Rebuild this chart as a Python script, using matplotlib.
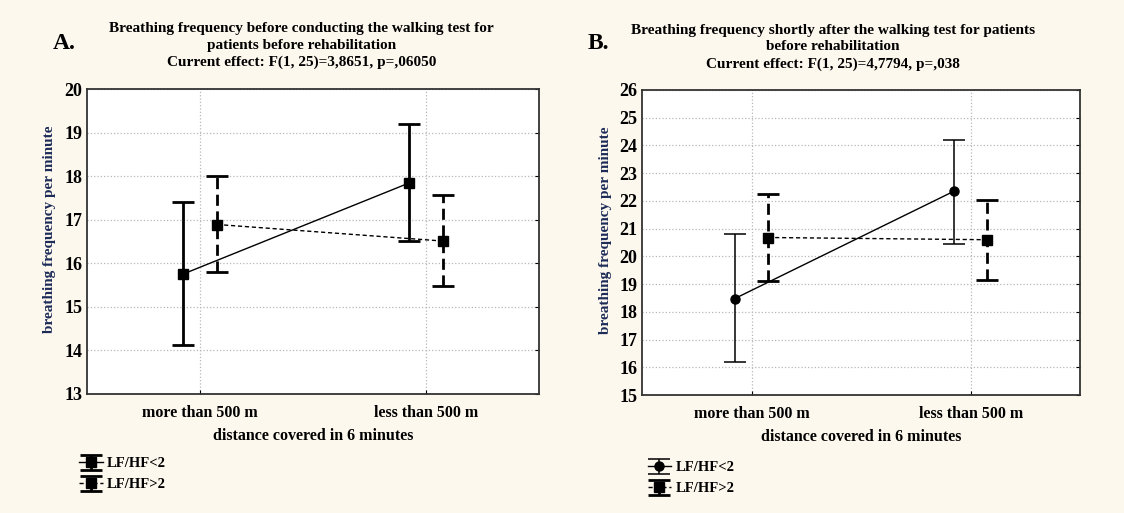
import matplotlib.pyplot as plt
import numpy as np

plt.rcParams['font.family'] = ['Liberation Serif', 'DejaVu Serif']
plt.rcParams['font.weight'] = 'bold'

# categories and groups
categories = ['more than 500 m', 'less than 500 m']
groups = ['LF/HF<2', 'LF/HF>2']

# Panel A: before the walking test (mean, lower, upper)
a_low_mean = [15.75, 17.84]
a_low_lo = [14.12, 16.50]
a_low_hi = [17.40, 19.20]
a_high_mean = [16.89, 16.51]
a_high_lo = [15.79, 15.47]
a_high_hi = [18.00, 17.56]

# Panel B: shortly after the walking test
b_low_mean = [18.48, 22.35]
b_low_lo = [16.18, 20.44]
b_low_hi = [20.80, 24.20]
b_high_mean = [20.68, 20.60]
b_high_lo = [19.10, 19.15]
b_high_hi = [22.25, 22.05]

bg = '#fdf8ee'
navy = '#1c2b57'

fig = plt.figure(figsize=(11.24, 5.13), dpi=100, facecolor=bg)
axA = fig.add_axes([0.0774, 0.232, 0.4021, 0.5945])
axB = fig.add_axes([0.5712, 0.230, 0.3898, 0.5946])


def draw_panel(ax, lo_m, lo_l, lo_h, hi_m, hi_l, hi_h, low_marker, low_elw, ylim, ylab_x):
    x = np.arange(len(categories))
    off = 0.076
    m1 = np.array(lo_m)
    m2 = np.array(hi_m)
    e1 = [m1 - np.array(lo_l), np.array(lo_h) - m1]
    e2 = [m2 - np.array(hi_l), np.array(hi_h) - m2]
    h1 = ax.errorbar(x - off, m1, yerr=e1, fmt=low_marker, color='black', ls='-', lw=1.0,
                     ms=6.5, elinewidth=low_elw, capsize=8, capthick=low_elw, zorder=3)
    h2 = ax.errorbar(x + off, m2, yerr=e2, fmt='s', color='black', ls=(0, (3, 2)), lw=1.0,
                     ms=6.5, elinewidth=2.0, capsize=8, capthick=2.0, zorder=3)
    h2[2][0].set_linestyle((0, (4, 2)))
    ax.set_xlim(-0.5, 1.5)
    ax.set_ylim(*ylim)
    ax.set_yticks(np.arange(ylim[0], ylim[1] + 1, 1))
    ax.set_xticks(x)
    ax.set_xticklabels(categories, fontsize=11.5, fontweight='bold')
    ax.tick_params(axis='y', labelsize=13, direction='in', length=3, right=True, left=False)
    ax.tick_params(axis='x', direction='in', length=3, pad=8)
    ax.grid(True, color='#b8b8b8', linestyle=':', linewidth=0.9)
    ax.set_axisbelow(True)
    for s in ax.spines.values():
        s.set_color('#333333')
        s.set_linewidth(1.3)
    ax.set_facecolor('white')
    ax.set_xlabel('distance covered in 6 minutes', fontsize=11.5, fontweight='bold', labelpad=5)
    ax.set_ylabel('breathing frequency per minute', fontsize=11, fontweight='bold',
                  color=navy)
    ax.yaxis.set_label_coords(ylab_x, 0.54)
    return h1, h2


hA = draw_panel(axA, a_low_mean, a_low_lo, a_low_hi, a_high_mean, a_high_lo, a_high_hi,
                's', 2.0, (13, 20), -0.069)
hB = draw_panel(axB, b_low_mean, b_low_lo, b_low_hi, b_high_mean, b_high_lo, b_high_hi,
                'o', 1.1, (15, 26), -0.068)

fig.text(0.268, 0.957, 'Breathing frequency before conducting the walking test for\n'
         'patients before rehabilitation\nCurrent effect: F(1, 25)=3,8651, p=,06050',
         ha='center', va='top', fontsize=11, fontweight='bold', linespacing=1.38)
fig.text(0.741, 0.954, 'Breathing frequency shortly after the walking test for patients\n'
         'before rehabilitation\nCurrent effect: F(1, 25)=4,7794, p=,038',
         ha='center', va='top', fontsize=11, fontweight='bold', linespacing=1.38)
fig.text(0.047, 0.915, 'A.', fontsize=17, fontweight='bold', va='center')
fig.text(0.523, 0.915, 'B.', fontsize=17, fontweight='bold', va='center')

leg_kw = dict(loc='upper left', frameon=False, fontsize=10.5, handlelength=1.6,
              handleheight=0.6, handletextpad=0.3, labelspacing=0.55, borderpad=0.1)
fig.legend(hA, groups, bbox_to_anchor=(0.0627, 0.126), **leg_kw)
fig.legend(hB, groups, bbox_to_anchor=(0.5685, 0.118), **leg_kw)

fig.savefig('out.png', dpi=100, facecolor=bg)
